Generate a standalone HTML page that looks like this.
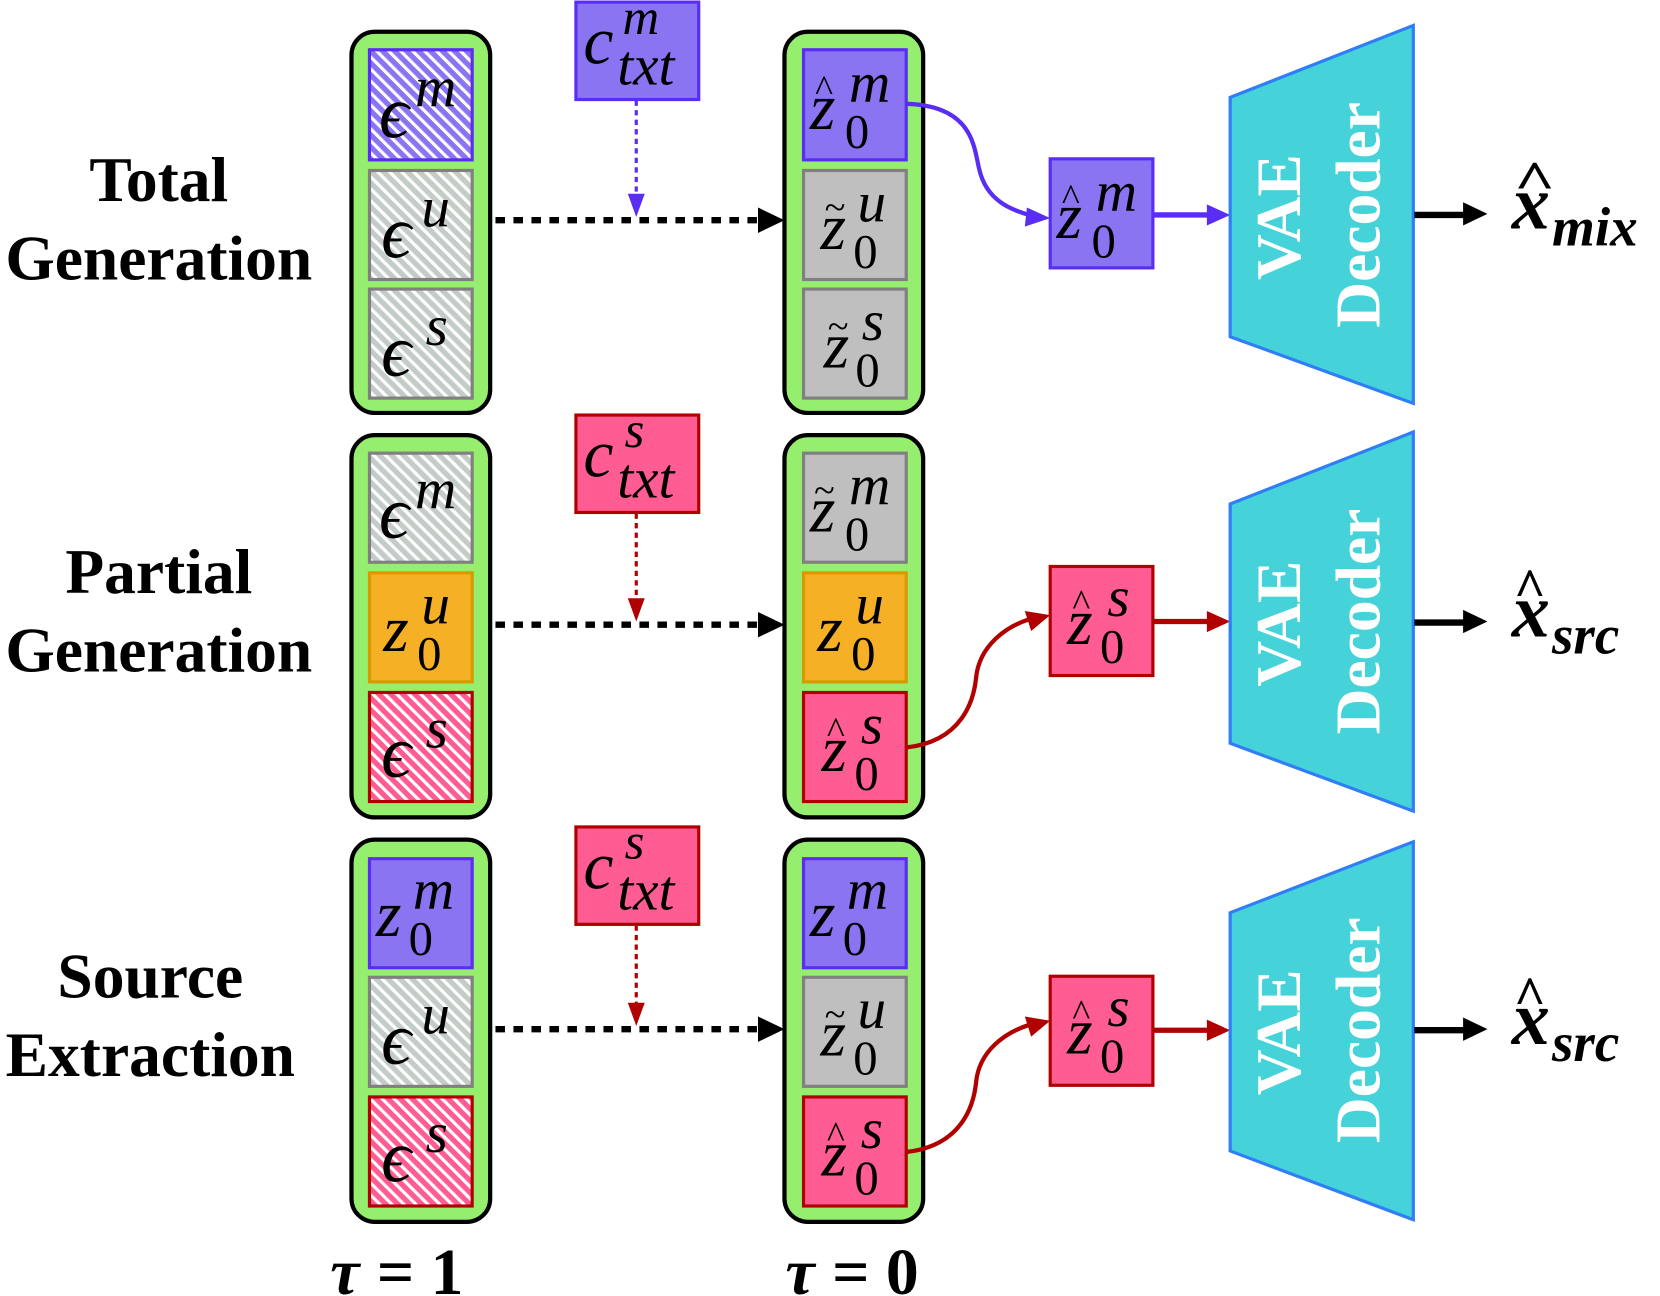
<!DOCTYPE html>
<html><head><meta charset="utf-8"><style>
html,body{margin:0;padding:0;background:#fff;width:1660px;height:1296px;overflow:hidden}
svg{display:block}
.m{font-family:"Liberation Serif",serif;font-style:italic}
.u{font-family:"Liberation Serif",serif;font-style:normal}
.lab{font-family:"Liberation Serif",serif;font-weight:bold;font-size:60px;text-anchor:middle}
.dec{font-family:"Liberation Serif",serif;font-weight:bold;font-size:60px;fill:#fff;text-anchor:middle}
</style></head><body>
<svg width="1660" height="1296" viewBox="0 0 1568 1224" preserveAspectRatio="none" xmlns="http://www.w3.org/2000/svg">
<defs>
<pattern id="hp" width="8" height="8" patternUnits="userSpaceOnUse" patternTransform="rotate(-45)"><rect width="8" height="8" fill="#8b74f2"/><rect width="3" height="8" fill="#fff"/></pattern>
<pattern id="hg" width="8" height="8" patternUnits="userSpaceOnUse" patternTransform="rotate(-45)"><rect width="8" height="8" fill="#c4ccc8"/><rect width="3" height="8" fill="#fff"/></pattern>
<pattern id="hr" width="8" height="8" patternUnits="userSpaceOnUse" patternTransform="rotate(-45)"><rect width="8" height="8" fill="#ff5c93"/><rect width="3" height="8" fill="#fff"/></pattern>
</defs>

<!-- left labels -->
<text class="lab" x="150" y="190">Total</text>
<text class="lab" x="150" y="264">Generation</text>
<text class="lab" x="150" y="560">Partial</text>
<text class="lab" x="150" y="634">Generation</text>
<text class="lab" x="142" y="942">Source</text>
<text class="lab" x="142" y="1016">Extraction</text>

<g fill="#96ee6e" stroke="#000" stroke-width="4">
<rect x="332" y="30" width="131" height="360" rx="22"/>
<rect x="741" y="30" width="131" height="360" rx="22"/>
<rect x="332" y="411" width="131" height="361" rx="22"/>
<rect x="741" y="411" width="131" height="361" rx="22"/>
<rect x="332" y="793" width="131" height="361" rx="22"/>
<rect x="741" y="793" width="131" height="361" rx="22"/>
</g>

<g stroke-width="3">
<rect x="349" y="47" width="97" height="104" fill="url(#hp)" stroke="#5a2df5"/>
<rect x="349" y="161" width="97" height="103" fill="url(#hg)" stroke="#808080"/>
<rect x="349" y="273" width="97" height="103" fill="url(#hg)" stroke="#808080"/>
<rect x="759" y="47" width="97" height="104" fill="#8b74f2" stroke="#5a2df5"/>
<rect x="759" y="161" width="97" height="103" fill="#bfbfbf" stroke="#808080"/>
<rect x="759" y="273" width="97" height="103" fill="#bfbfbf" stroke="#808080"/>

<rect x="349" y="428" width="97" height="103" fill="url(#hg)" stroke="#808080"/>
<rect x="349" y="541" width="97" height="103" fill="#f5b025" stroke="#d79a00"/>
<rect x="349" y="654" width="97" height="103" fill="url(#hr)" stroke="#b00000"/>
<rect x="759" y="428" width="97" height="103" fill="#bfbfbf" stroke="#808080"/>
<rect x="759" y="541" width="97" height="103" fill="#f5b025" stroke="#d79a00"/>
<rect x="759" y="654" width="97" height="103" fill="#ff5c93" stroke="#b00000"/>

<rect x="349" y="811" width="97" height="103" fill="#8b74f2" stroke="#5a2df5"/>
<rect x="349" y="923" width="97" height="103" fill="url(#hg)" stroke="#808080"/>
<rect x="349" y="1036" width="97" height="103" fill="url(#hr)" stroke="#b00000"/>
<rect x="759" y="811" width="97" height="103" fill="#8b74f2" stroke="#5a2df5"/>
<rect x="759" y="923" width="97" height="103" fill="#bfbfbf" stroke="#808080"/>
<rect x="759" y="1036" width="97" height="103" fill="#ff5c93" stroke="#b00000"/>

<rect x="544" y="2" width="116" height="92" fill="#8b74f2" stroke="#5a2df5"/>
<rect x="544" y="392" width="116" height="92" fill="#ff5c93" stroke="#b00000"/>
<rect x="544" y="781" width="116" height="92" fill="#ff5c93" stroke="#b00000"/>
<rect x="992" y="150" width="97" height="103" fill="#8b74f2" stroke="#5a2df5"/>
<rect x="992" y="535" width="97" height="103" fill="#ff5c93" stroke="#b00000"/>
<rect x="992" y="922" width="97" height="103" fill="#ff5c93" stroke="#b00000"/>
</g>

<g class="m" fill="#000">
<text x="358" y="130" font-size="70">ϵ</text><text x="392" y="100" font-size="54">m</text>
<text x="360" y="243" font-size="70">ϵ</text><text x="398" y="214" font-size="54">u</text>
<text x="360" y="355" font-size="70">ϵ</text><text x="402" y="326" font-size="54">s</text>
<text x="358" y="508" font-size="70">ϵ</text><text x="392" y="480" font-size="54">m</text>
<text x="360" y="1005" font-size="70">ϵ</text><text x="398" y="976" font-size="54">u</text>
<text x="360" y="734" font-size="70">ϵ</text><text x="402" y="706" font-size="54">s</text>
<text x="360" y="1116" font-size="70">ϵ</text><text x="402" y="1088" font-size="54">s</text>
</g>
<g fill="#000">
<text class="m" x="765" y="122" font-size="62">z</text><text class="u" x="770" y="96" font-size="36">^</text><text class="m" x="802" y="96" font-size="54">m</text><text class="u" x="798" y="140" font-size="46">0</text>
<text class="m" x="775" y="235" font-size="62">z</text><text class="u" x="779" y="208" font-size="36">~</text><text class="m" x="810" y="209" font-size="54">u</text><text class="u" x="806" y="253" font-size="46">0</text>
<text class="m" x="778" y="347" font-size="62">z</text><text class="u" x="782" y="320" font-size="36">~</text><text class="m" x="814" y="321" font-size="54">s</text><text class="u" x="808" y="365" font-size="46">0</text>
<text class="m" x="998" y="225" font-size="62">z</text><text class="u" x="1003" y="199" font-size="36">^</text><text class="m" x="1035" y="199" font-size="54">m</text><text class="u" x="1031" y="243" font-size="46">0</text>
<text class="m" x="765" y="502" font-size="62">z</text><text class="u" x="769" y="475" font-size="36">~</text><text class="m" x="802" y="476" font-size="54">m</text><text class="u" x="798" y="520" font-size="46">0</text>
<text class="m" x="362" y="615" font-size="62">z</text><text class="m" x="398" y="589" font-size="54">u</text><text class="u" x="394" y="633" font-size="46">0</text>
<text class="m" x="772" y="615" font-size="62">z</text><text class="m" x="808" y="589" font-size="54">u</text><text class="u" x="804" y="633" font-size="46">0</text>
<text class="m" x="776" y="728" font-size="62">z</text><text class="u" x="781" y="702" font-size="36">^</text><text class="m" x="813" y="702" font-size="54">s</text><text class="u" x="807" y="746" font-size="46">0</text>
<text class="m" x="1008" y="608" font-size="62">z</text><text class="u" x="1013" y="582" font-size="36">^</text><text class="m" x="1046" y="582" font-size="54">s</text><text class="u" x="1039" y="626" font-size="46">0</text>
<text class="m" x="355" y="884" font-size="62">z</text><text class="m" x="390" y="858" font-size="54">m</text><text class="u" x="386" y="902" font-size="46">0</text>
<text class="m" x="765" y="884" font-size="62">z</text><text class="m" x="800" y="858" font-size="54">m</text><text class="u" x="796" y="902" font-size="46">0</text>
<text class="m" x="775" y="997" font-size="62">z</text><text class="u" x="779" y="970" font-size="36">~</text><text class="m" x="810" y="971" font-size="54">u</text><text class="u" x="806" y="1015" font-size="46">0</text>
<text class="m" x="776" y="1110" font-size="62">z</text><text class="u" x="781" y="1084" font-size="36">^</text><text class="m" x="813" y="1084" font-size="54">s</text><text class="u" x="807" y="1128" font-size="46">0</text>
<text class="m" x="1008" y="995" font-size="62">z</text><text class="u" x="1013" y="969" font-size="36">^</text><text class="m" x="1046" y="969" font-size="54">s</text><text class="u" x="1039" y="1013" font-size="46">0</text>
<text class="m" x="551" y="60" font-size="64">c</text><text class="m" x="588" y="32" font-size="48">m</text><text class="m" x="583" y="80" font-size="54">txt</text>
<text class="m" x="551" y="450" font-size="64">c</text><text class="m" x="590" y="422" font-size="48">s</text><text class="m" x="583" y="470" font-size="54">txt</text>
<text class="m" x="551" y="839" font-size="64">c</text><text class="m" x="590" y="811" font-size="48">s</text><text class="m" x="583" y="859" font-size="54">txt</text>
</g>

<g stroke="#000" stroke-width="6" stroke-dasharray="9,8" fill="none">
<line x1="468" y1="208" x2="720" y2="208"/>
<line x1="468" y1="590" x2="720" y2="590"/>
<line x1="468" y1="972" x2="720" y2="972"/>
</g>
<g fill="#000">
<path d="M716,196 L741,208 L716,220z"/>
<path d="M716,578 L741,590 L716,602z"/>
<path d="M716,960 L741,972 L716,984z"/>
</g>
<line x1="601" y1="95" x2="601" y2="185" stroke="#5a2df5" stroke-width="3" stroke-dasharray="5,4"/>
<path d="M593,183 L609,183 L601,205z" fill="#5a2df5"/>
<line x1="601" y1="485" x2="601" y2="566" stroke="#b00000" stroke-width="3" stroke-dasharray="5,4"/>
<path d="M593,565 L609,565 L601,587z" fill="#b00000"/>
<line x1="601" y1="874" x2="601" y2="948" stroke="#b00000" stroke-width="3" stroke-dasharray="5,4"/>
<path d="M593,947 L609,947 L601,969z" fill="#b00000"/>

<path d="M856,98 C920,100 920,140 925,160 C932,190 955,198 975,204" stroke="#5a2df5" stroke-width="4" fill="none"/>
<path d="M970,196 L992,206 L968,214z" fill="#5a2df5"/>
<path d="M856,706 C910,700 920,660 922,640 C925,610 950,592 972,585" stroke="#b00000" stroke-width="4" fill="none"/>
<path d="M968,577 L992,581 L974,596z" fill="#b00000"/>
<path d="M856,1088 C910,1082 920,1042 922,1022 C925,992 950,975 972,968" stroke="#b00000" stroke-width="4" fill="none"/>
<path d="M968,960 L992,964 L974,979z" fill="#b00000"/>

<line x1="1089" y1="203" x2="1145" y2="203" stroke="#5a2df5" stroke-width="5"/>
<path d="M1140,193 L1162,203 L1140,213z" fill="#5a2df5"/>
<line x1="1089" y1="587" x2="1145" y2="587" stroke="#b00000" stroke-width="5"/>
<path d="M1140,577 L1162,587 L1140,597z" fill="#b00000"/>
<line x1="1089" y1="973" x2="1145" y2="973" stroke="#b00000" stroke-width="5"/>
<path d="M1140,963 L1162,973 L1140,983z" fill="#b00000"/>

<g fill="#45d3d9" stroke="#2f7ef7" stroke-width="3">
<path d="M1162,92 L1335,24 L1335,381 L1162,318z"/>
<path d="M1162,476 L1335,408 L1335,766 L1162,702z"/>
<path d="M1162,862 L1335,795 L1335,1152 L1162,1087z"/>
</g>
<g class="dec">
<text transform="translate(1228,205) rotate(-90)">VAE</text>
<text transform="translate(1303,203) rotate(-90)">Decoder</text>
<text transform="translate(1228,589) rotate(-90)">VAE</text>
<text transform="translate(1303,587) rotate(-90)">Decoder</text>
<text transform="translate(1228,975) rotate(-90)">VAE</text>
<text transform="translate(1303,973) rotate(-90)">Decoder</text>
</g>

<g fill="#000">
<line x1="1336" y1="203" x2="1385" y2="203" stroke="#000" stroke-width="6"/><path d="M1382,191 L1405,202 L1382,213z"/>
<line x1="1336" y1="588" x2="1385" y2="588" stroke="#000" stroke-width="6"/><path d="M1382,576 L1405,587 L1382,598z"/>
<line x1="1336" y1="973" x2="1385" y2="973" stroke="#000" stroke-width="6"/><path d="M1382,961 L1405,972 L1382,983z"/>
<g class="m" font-weight="bold">
<text x="1428" y="216" font-size="72">x</text><text class="u" x="1430" y="188" font-size="52" transform="scale(1.3,1)" transform-origin="1430 188">^</text><text x="1466" y="232" font-size="52">mix</text>
<text x="1428" y="601" font-size="72">x</text><text class="u" x="1430" y="573" font-size="52">^</text><text x="1466" y="617" font-size="52">src</text>
<text x="1428" y="986" font-size="72">x</text><text class="u" x="1430" y="958" font-size="52">^</text><text x="1466" y="1002" font-size="52">src</text>
</g>
<text class="m" font-weight="bold" x="312" y="1222" font-size="62">τ</text><text class="u" font-weight="bold" x="356" y="1222" font-size="62">= 1</text>
<text class="m" font-weight="bold" x="742" y="1222" font-size="62">τ</text><text class="u" font-weight="bold" x="786" y="1222" font-size="62">= 0</text>
</g>
</svg>
</body></html>
